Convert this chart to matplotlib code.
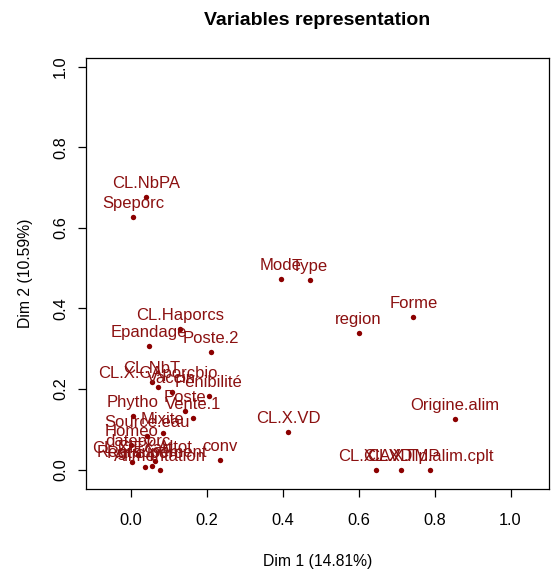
import matplotlib
matplotlib.use("Agg")
import matplotlib.pyplot as plt

plt.rcParams['font.family'] = ['Liberation Sans', 'DejaVu Sans']

# variable names and their coordinates (eta2) on dims 1 and 2
labels = ["Speporc", "CL.NbPA", "Mode", "Type", "region", "Forme",
          "Origine.alim", "CL.X.VD", "conv", "CL.Haporcs", "Epandage",
          "Poste.2", "CL.NbT", "CL.X.CAporcbio", "Vaccin", "Pénibilité",
          "Poste", "Vente.1", "Phytho", "Mixite", "Source.eau", "Homeo",
          "dateporc", "CL.X.Altot", "CL.X.Ecart", "Ratio.porc",
          "Regroupement", "Alimentation",
          "CL.X.AVD", "CL.X.TMP", "CL.X.Tp.alim.cplt"]
dim1 = [0.007, 0.040, 0.396, 0.472, 0.600, 0.744,
        0.853, 0.414, 0.235, 0.130, 0.049,
        0.211, 0.055, 0.071, 0.108, 0.206,
        0.143, 0.165, 0.005, 0.084, 0.042, 0.002,
        0.019, 0.064, 0.004, 0.038,
        0.057, 0.077,
        0.645, 0.712, 0.788]
dim2 = [0.626, 0.676, 0.474, 0.471, 0.340, 0.379,
        0.126, 0.094, 0.025, 0.350, 0.306,
        0.293, 0.217, 0.204, 0.193, 0.182,
        0.146, 0.128, 0.134, 0.091, 0.083, 0.062,
        0.037, 0.021, 0.019, 0.007,
        0.009, 0.000,
        0.000, 0.000, 0.000]
pct1, pct2 = 14.81, 10.59

col = "#8B0000"
txtcol = "#8B1010"
fig = plt.figure(figsize=(5.51, 5.71), dpi=100)
ax = fig.add_axes([0.156, 0.1436, 0.84, 0.7545])

ax.scatter(dim1, dim2, s=15, color=col, zorder=3, linewidths=0)
for lab, x, y in zip(labels, dim1, dim2):
    ax.annotate(lab, (x, y), xytext=(0, 6.5), textcoords="offset points",
                ha="center", va="baseline", color=txtcol, fontsize=12)

ax.set_xlim(-0.1176, 1.1008)
ax.set_ylim(-0.048, 1.021)
ticks = [0.0, 0.2, 0.4, 0.6, 0.8, 1.0]
ax.set_xticks(ticks)
ax.set_yticks(ticks)
ax.set_xticklabels([f"{t:.1f}" for t in ticks])
ax.set_yticklabels([f"{t:.1f}" for t in ticks], rotation=90, va="center")
ax.tick_params(direction="out", length=6, width=0.9, labelsize=11.8, pad=7)
ax.tick_params(axis="x", pad=11)
for s in ax.spines.values():
    s.set_linewidth(0.9)

ax.set_xlabel(f"Dim 1 ({pct1:.2f}%)", fontsize=11.3, labelpad=19)
ax.set_ylabel(f"Dim 2 ({pct2:.2f}%)", fontsize=11.3, labelpad=14)
ax.set_title("Variables representation", fontsize=14, fontweight="bold", pad=24)

fig.savefig("out.png", dpi=100)
